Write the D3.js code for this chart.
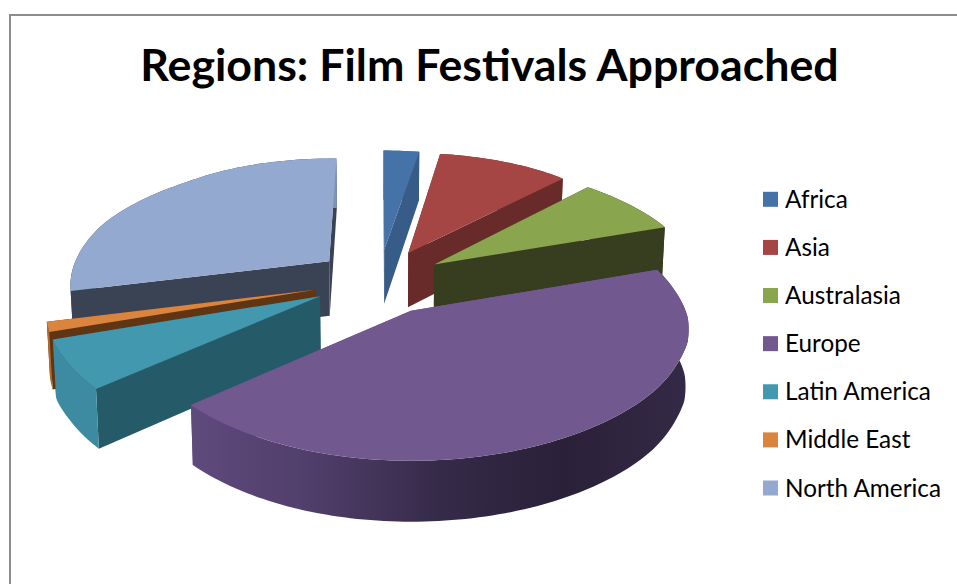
<!DOCTYPE html>
<html><head><meta charset="utf-8">
<script src="https://cdn.jsdelivr.net/npm/d3@7/dist/d3.min.js"></script>
<style>html,body{margin:0;padding:0;background:#fff}svg{display:block}text{font-family:Lato,"Open Sans",sans-serif;fill:#000}</style>
</head><body><svg id="c" width="957" height="584"></svg>
<script>
const categories=["Africa","Asia","Australasia","Europe","Latin America","Middle East","North America"];
const values=[2.6,10,7.4,44.6,5.6,1.1,28.7];
const topColors=["#4572a7","#a64644","#89a54e","#71588f","#4198af","#db843d","#93a9cf"];
const cutColors=["#375c87","#692a2a","#373d1f","#71588f","#255a68","#5f3513","#3a4354"];
const wallColors=["#375c87","#692a2a","#373d1f","#5f4a7c","#3d8ba1","#b56a2c","#7f93b5"];
const drawOrder=[6,0,1,2,5,4,3];
const title="Regions: Film Festivals Approached";

const W=957,H=584,cx=379,cy=281,R=260,explode=65;
const svg=d3.select("#c");
const defs=svg.append("defs");
const sx=d3.scaleLinear().domain([-330,-240,-220,-120,-50,20,70,113,170,240,330]).range([.845,.855,.865,.94,.985,1.03,1.065,1.085,1.09,1.08,1.07]);
const ty=d3.scaleLinear().domain([-330,-225,-120,0,60,113,190,220,330]).range([.40,.43,.47,.50,.52,.55,.575,.575,.565]);
const depth=d3.scaleLinear().domain([-330,-65,200,330]).range([49,54,60,61]);
const xs=X=>X<0?X*.985:X;
const top3=(X,Y)=>[cx+xs(X)*sx(Y),cy+Y*ty(Y)];
const bot3=(X,Y)=>[cx+xs(X)*sx(Y)*.99,cy+Y*ty(Y)+depth(Y)];
const line=d3.line();

svg.append("path").attr("d",line([[10,H],[10,15],[W,15]])).attr("fill","none").attr("stroke","#8c8c8c").attr("stroke-width",2);
svg.append("text").attr("x",489.5).attr("y",81).attr("text-anchor","middle").attr("font-size",44.7).attr("font-weight",700).text(title);

const arcs=d3.pie().sort(null).startAngle(0).endAngle(2*Math.PI)(values);
const grad=defs.append("linearGradient").attr("id","eur").attr("gradientUnits","userSpaceOnUse").attr("x1",194).attr("x2",689).attr("y1",0).attr("y2",0);
[[0,"#5f4a7c"],[.25,"#4f3d69"],[.5,"#352a48"],[.75,"#2a2038"],[1,"#342a47"]].forEach(s=>grad.append("stop").attr("offset",s[0]).attr("stop-color",s[1]));
const gradNA=defs.append("linearGradient").attr("id","na").attr("gradientUnits","userSpaceOnUse").attr("x1",300).attr("x2",330).attr("y1",0).attr("y2",0);
[[0,cutColors[6]],[1,wallColors[6]]].forEach(s=>gradNA.append("stop").attr("offset",s[0]).attr("stop-color",s[1]));
const wallFill={"Europe":"url(#eur)","North America":"url(#na)"};

drawOrder.forEach(i=>{
  const a=arcs[i],mid=(a.startAngle+a.endAngle)/2;
  const ox=explode*Math.sin(mid),oy=-explode*Math.cos(mid);
  const n=Math.max(6,Math.ceil((a.endAngle-a.startAngle)*40));
  const pts=d3.range(n+1).map(k=>{const th=a.startAngle+(a.endAngle-a.startAngle)*k/n;return [ox+R*Math.sin(th),oy-R*Math.cos(th)];});
  const g=svg.append("g");
  const face=p=>[top3(ox,oy),top3(...p),bot3(...p),bot3(ox,oy)];
  g.append("path").attr("d",line(face(pts[0]))+"Z").attr("fill",cutColors[i]);
  g.append("path").attr("d",line(face(pts[n]))+"Z").attr("fill",cutColors[i]);
  const wall=pts.map(p=>top3(...p)).concat(pts.slice().reverse().map(p=>bot3(...p)));
  g.append("path").attr("d",line(wall)+"Z").attr("fill",wallFill[categories[i]]||wallColors[i]);
  const surf=[top3(ox,oy)].concat(pts.map(p=>top3(...p)));
  g.append("path").attr("d",line(surf)+"Z").attr("fill",topColors[i]);
});

const legendY=d3.scalePoint().domain(categories).range([199.3,488]);
categories.forEach((c,i)=>{
  const y=legendY(c);
  svg.append("rect").attr("x",763).attr("y",y-7.5).attr("width",15).attr("height",15).attr("fill",topColors[i]);
  svg.append("text").attr("x",785).attr("y",y+8.5).attr("font-size",24.3).text(c);
});
</script></body></html>
